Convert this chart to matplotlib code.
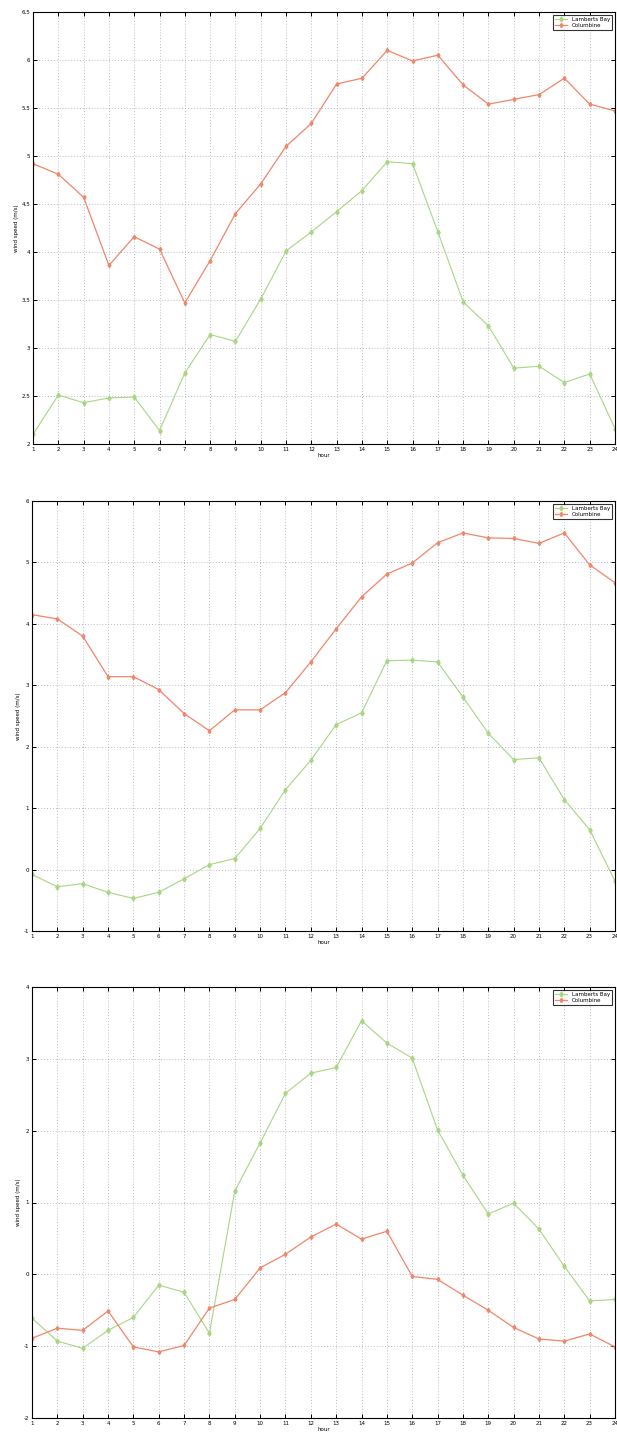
import matplotlib
matplotlib.use("Agg")
import matplotlib.pyplot as plt
import numpy as np

hours = list(range(1, 25))

lamberts_1 = [2.10, 2.51, 2.43, 2.48, 2.49, 2.14, 2.74, 3.14, 3.07, 3.51, 4.01, 4.21,
              4.42, 4.64, 4.94, 4.92, 4.21, 3.48, 3.23, 2.79, 2.81, 2.64, 2.73, 2.16]
columbine_1 = [4.92, 4.81, 4.57, 3.86, 4.16, 4.03, 3.47, 3.91, 4.40, 4.71, 5.10, 5.34,
               5.75, 5.81, 6.10, 5.99, 6.05, 5.74, 5.54, 5.59, 5.64, 5.81, 5.54, 5.47]

lamberts_2 = [-0.08, -0.28, -0.23, -0.37, -0.47, -0.37, -0.15, 0.08, 0.18, 0.67, 1.30, 1.78,
              2.36, 2.55, 3.40, 3.41, 3.38, 2.81, 2.22, 1.79, 1.82, 1.14, 0.65, -0.19]
columbine_2 = [4.15, 4.08, 3.80, 3.14, 3.14, 2.93, 2.54, 2.26, 2.60, 2.60, 2.88, 3.38,
               3.92, 4.44, 4.81, 4.99, 5.32, 5.48, 5.40, 5.39, 5.31, 5.48, 4.96, 4.67]

lamberts_3 = [-0.61, -0.93, -1.03, -0.78, -0.60, -0.15, -0.25, -0.82, 1.16, 1.83, 2.52, 2.80,
              2.88, 3.53, 3.22, 3.01, 2.01, 1.38, 0.84, 0.99, 0.63, 0.11, -0.37, -0.35]
columbine_3 = [-0.89, -0.75, -0.78, -0.51, -1.01, -1.08, -0.99, -0.47, -0.35, 0.09, 0.28, 0.52,
               0.70, 0.49, 0.60, -0.03, -0.07, -0.29, -0.50, -0.74, -0.90, -0.93, -0.83, -1.01]

series_names = ["Lamberts Bay", "Columbine"]

panels = [
    (lamberts_1, columbine_1, (2, 6.5), np.arange(2, 6.51, 0.5), ["2", "2.5", "3", "3.5", "4", "4.5", "5", "5.5", "6", "6.5"]),
    (lamberts_2, columbine_2, (-1, 6), np.arange(-1, 6.01, 1), ["-1", "0", "1", "2", "3", "4", "5", "6"]),
    (lamberts_3, columbine_3, (-2, 4), np.arange(-2, 4.01, 1), ["-2", "-1", "0", "1", "2", "3", "4"]),
]

W, H = 617, 1437
fig = plt.figure(figsize=(W / 100, H / 100), dpi=100)

# (left, top, right, bottom) in pixels
boxes = [(33, 12, 615, 444), (32, 501, 615, 931), (32, 987, 615, 1418)]

green = "#a8d683"
red = "#f0866a"

for (g, r, ylim, yt, ytl), (l, t, rr, b) in zip(panels, boxes):
    ax = fig.add_axes([l / W, 1 - b / H, (rr - l) / W, (b - t) / H])
    ax.plot(hours, g, color=green, lw=0.8, marker="d", ms=2.6, label=series_names[0])
    ax.plot(hours, r, color=red, lw=0.9, marker="d", ms=2.2, label=series_names[1])
    ax.set_xlim(1, 24)
    ax.set_ylim(*ylim)
    ax.set_xticks(hours)
    ax.set_xticklabels([str(h) for h in hours], fontsize=4)
    ax.set_yticks(yt)
    ax.set_yticklabels(ytl, fontsize=4)
    ax.tick_params(direction="in", length=3, width=0.7, pad=2, top=True, right=True)
    ax.grid(True, color="#a0a6b8", ls=(0, (1, 2.5)), lw=0.6)
    for s in ax.spines.values():
        s.set_linewidth(0.8)
    ax.set_xlabel("hour", fontsize=4, labelpad=1)
    ax.set_ylabel("wind speed (m/s)", fontsize=4, labelpad=2)
    leg = ax.legend(loc="upper right", fontsize=4, frameon=True, fancybox=False,
                    edgecolor="black", borderpad=0.4, handlelength=2.2, labelspacing=0.2)
    leg.get_frame().set_linewidth(0.8)

fig.savefig("out.png", dpi=100, facecolor="white")
